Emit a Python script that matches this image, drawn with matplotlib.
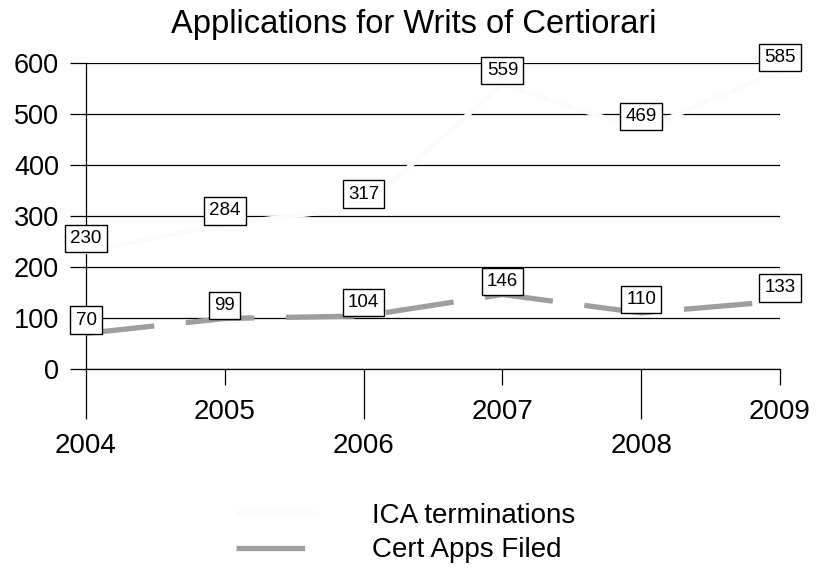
import numpy as np
import matplotlib
matplotlib.use('Agg')
import matplotlib.pyplot as plt

plt.rcParams['font.family'] = ['Liberation Sans', 'DejaVu Sans']

years = [2004, 2005, 2006, 2007, 2008, 2009]
ica_terminations = [230, 284, 317, 559, 469, 585]
cert_apps_filed = [70, 99, 104, 146, 110, 133]
y_ticks = [0, 100, 200, 300, 400, 500, 600]

fig = plt.figure(figsize=(8.17, 5.71), dpi=100)
ax = fig.add_axes([0.1053, 0.3538, 0.8494, 0.5359])

ax.set_xlim(2004, 2009)
ax.set_ylim(0, 600)

# grid
ax.set_yticks(y_ticks)
ax.yaxis.grid(True, color='black', linewidth=0.9)
ax.set_axisbelow(True)

# lines (the ICA line is almost white, it only shows as gaps in the grid)
ax.plot(years, ica_terminations, color='#fbfbfb', linewidth=3.5, zorder=3,
        clip_on=False, label='ICA terminations')
ax.plot(years, cert_apps_filed, color='#9e9e9e', linewidth=3.8, zorder=4,
        dashes=(13, 6), clip_on=False, label='Cert Apps Filed')

# boxed value labels
for xs, ys in [(years, ica_terminations), (years, cert_apps_filed)]:
    for x, y in zip(xs, ys):
        ax.annotate(str(y), (x, y), xytext=(0, 9.5), textcoords='offset points',
                    ha='center', va='center', fontsize=13.5, zorder=6,
                    annotation_clip=False,
                    bbox=dict(boxstyle='square,pad=0.28', fc='white',
                              ec='black', lw=1.0))

# staggered x ticks: long major ticks and short minor ticks
ax.set_xticks(years[0::2])
ax.set_xticks(years[1::2], minor=True)
ax.set_xticklabels([str(y) for y in years[0::2]])
ax.set_xticklabels([str(y) for y in years[1::2]], minor=True)
ax.tick_params(axis='x', which='major', length=36, width=0.9, pad=10,
               labelsize=20, direction='out')
ax.tick_params(axis='x', which='minor', length=11.5, width=0.9, pad=10,
               labelsize=20, direction='out')
ax.tick_params(axis='y', length=11.5, width=0.9, pad=8, labelsize=19.5,
               direction='out')

for side in ['top', 'right']:
    ax.spines[side].set_visible(False)
ax.spines['left'].set_linewidth(0.9)
ax.spines['bottom'].set_linewidth(0.9)

fig.text(0.506, 0.942, 'Applications for Writs of Certiorari', fontsize=23.5,
         ha='center', va='baseline')

fig.legend(loc='center', bbox_to_anchor=(0.496, 0.066), frameon=False,
           fontsize=20, handlelength=2.9, handletextpad=2.0, labelspacing=0.3,
           bbox_transform=fig.transFigure)

fig.savefig('out.png', dpi=100, facecolor='white')
